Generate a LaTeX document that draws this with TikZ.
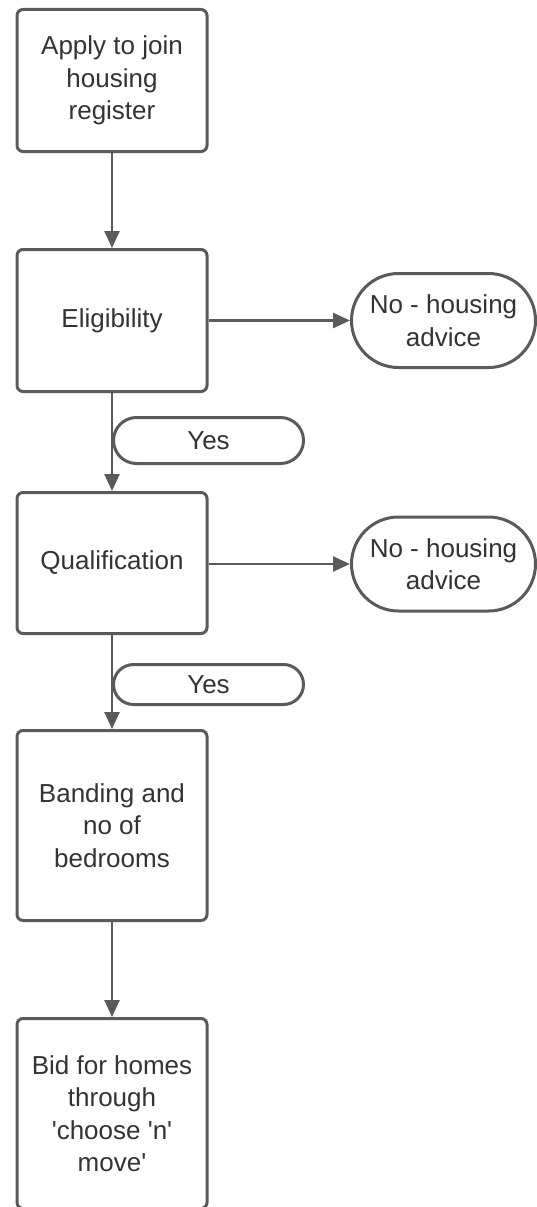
\documentclass[tikz,border=0pt]{standalone}
\usepackage{fontspec}
\setmainfont{Liberation Sans}
\usetikzlibrary{arrows.meta,shapes.misc}
\definecolor{edge}{HTML}{5A5A5A}
\definecolor{ink}{HTML}{333333}
\newcommand{\sq}{\textquotesingle}

\begin{document}
\begin{tikzpicture}[x=1pt, y=-1pt,
    font=\fontsize{26}{32.5}\selectfont, text=ink,
    stage/.style={draw=edge, line width=3pt, fill=white, rounded corners=6pt,
      minimum width=190pt, align=center, inner sep=0pt},
    outcome/.style={draw=edge, line width=3pt, fill=white, rounded rectangle,
      minimum width=184pt, minimum height=94pt, align=center, inner sep=0pt},
    answer/.style={draw=edge, line width=3pt, fill=white, rounded rectangle,
      minimum width=190pt, inner sep=0pt},
    flow/.style={draw=edge, line width=2.5pt, -{Triangle[length=17pt, width=15pt]}}]
  \useasboundingbox (0,0) rectangle (536,1207);
  % main column
  \node[stage, minimum height=142pt] (apply) at (112,80.5) {Apply to join\\housing\\register};
  \node[stage, minimum height=142pt] (elig) at (112,320.5) {Eligibility};
  \node[stage, minimum height=141pt] (qual) at (112,563) {Qualification};
  \node[stage, minimum height=190pt] (band) at (112,825.5) {Banding and\\no of\\bedrooms};
  \node[stage, minimum height=190pt] (bid) at (112,1113.5) {Bid for homes\\through\\\sq choose \sq n\sq\\move\sq};
  % side exits
  \node[outcome] (noelig) at (443.5,320.5) {No - housing\\advice};
  \node[outcome] (noqual) at (443.5,564) {No - housing\\advice};
  % connectors
  \draw[flow] (apply.south) -- (elig.north);
  \draw[flow] (elig.east) -- (noelig.west);
  \draw[flow] (elig.south) -- (qual.north);
  \draw[flow] (qual.east |- noqual.west) -- (noqual.west);
  \draw[flow] (qual.south) -- (band.north);
  \draw[flow] (band.south) -- (bid.north);
  % labels on the yes paths
  \node[answer, minimum height=46pt] (yes1) at (208.5,440.5) {Yes};
  \node[answer, minimum height=40pt] (yes2) at (208.5,684.5) {Yes};
\end{tikzpicture}
\end{document}
